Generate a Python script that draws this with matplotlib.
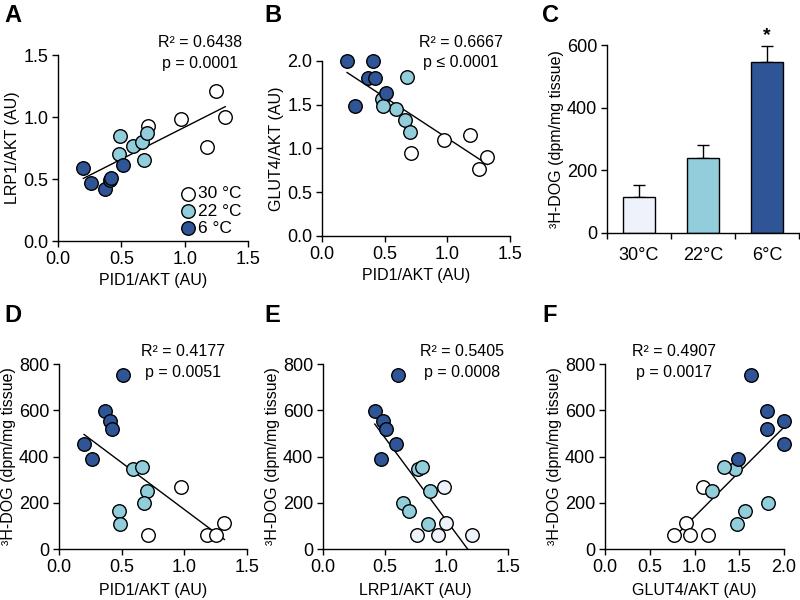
import numpy as np
import matplotlib
matplotlib.use("Agg")
import matplotlib.pyplot as plt
from matplotlib.ticker import FormatStrFormatter

plt.rcParams['font.family'] = ['Liberation Sans', 'DejaVu Sans']
plt.rcParams['font.size'] = 11

# per-mouse values, one array per group (30 °C, 22 °C, 6 °C)
pid1_30 = [0.97, 1.32, 1.18, 1.25, 0.71]
lrp1_30 = [0.98, 1.00, 0.76, 1.21, 0.93]
glut4_30 = [1.10, 0.90, 1.15, 0.77, 0.95]
dog_30 = [268, 112, 62, 62, 62]

pid1_22 = [0.59, 0.66, 0.70, 0.68, 0.48, 0.49]
lrp1_22 = [0.77, 0.80, 0.87, 0.65, 0.70, 0.85]
glut4_22 = [1.45, 1.33, 1.19, 1.82, 1.56, 1.48]
dog_22 = [348, 353, 252, 197, 165, 106]

pid1_6 = [0.51, 0.37, 0.41, 0.42, 0.20, 0.26]
lrp1_6 = [0.61, 0.42, 0.49, 0.51, 0.59, 0.47]
glut4_6 = [1.63, 1.81, 2.00, 1.81, 2.00, 1.49]
dog_6 = [752, 597, 555, 520, 455, 390]

# bar panel C
temps = ['30°C', '22°C', '6°C']
dog_mean = [115, 238, 547]
dog_sem = [37, 42, 51]

stats_a = "R² = 0.6438\np = 0.0001"
stats_b = "R² = 0.6667\np ≤ 0.0001"
stats_d = "R² = 0.4177\np = 0.0051"
stats_e = "R² = 0.5405\np = 0.0008"
stats_f = "R² = 0.4907\np = 0.0017"

WHITE = '#FFFFFF'
LIGHT = '#92CDDC'
DARK = '#2F5597'
PALE = '#EEF3FB'

TICK_FS = 13
LABEL_FS = 11.5
STAT_FS = 11.5


def style_axes(ax):
    for side in ['top', 'right']:
        ax.spines[side].set_visible(False)
    for side in ['left', 'bottom']:
        ax.spines[side].set_linewidth(1.0)
    ax.tick_params(direction='out', length=4, width=1.0, labelsize=TICK_FS,
                   pad=3)


def scatter_panel(ax, xs, ys, white_fill=WHITE):
    fills = [white_fill, LIGHT, DARK]
    allx = np.concatenate([np.asarray(x, float) for x in xs])
    ally = np.concatenate([np.asarray(y, float) for y in ys])
    k, b = np.polyfit(allx, ally, 1)
    xl = np.array([allx.min(), allx.max()])
    ax.plot(xl, k * xl + b, color='black', linewidth=1.0, zorder=2)
    labels = ['30 °C', '22 °C', '6 °C']
    for x, y, c, lab in zip(xs, ys, fills, labels):
        ax.scatter(x, y, s=95, facecolor=c, edgecolor='black',
                   linewidth=1.0, zorder=3, label=lab, clip_on=False)
    style_axes(ax)


def add_stats(ax, x, text):
    ax.text(x, 1.01, text, transform=ax.transAxes, ha='center',
            va='center', fontsize=STAT_FS, linespacing=1.45)


fig = plt.figure(figsize=(8, 6), dpi=100)

# A
axA = fig.add_axes([0.0725, 0.5983, 0.2375, 0.31])
scatter_panel(axA, [pid1_30, pid1_22, pid1_6], [lrp1_30, lrp1_22, lrp1_6])
axA.set_xlim(0, 1.5)
axA.set_ylim(0, 1.5)
axA.set_xticks([0, 0.5, 1.0, 1.5])
axA.set_yticks([0, 0.5, 1.0, 1.5])
axA.xaxis.set_major_formatter(FormatStrFormatter('%.1f'))
axA.yaxis.set_major_formatter(FormatStrFormatter('%.1f'))
axA.set_xlabel('PID1/AKT (AU)', fontsize=LABEL_FS, labelpad=4)
axA.set_ylabel('LRP1/AKT (AU)', fontsize=LABEL_FS, labelpad=2)
add_stats(axA, 0.75, stats_a)
axA.legend(loc='lower right', bbox_to_anchor=(1.0, -0.01), frameon=False,
           handletextpad=0.05, labelspacing=0.12, borderaxespad=0,
           fontsize=12.5, handlelength=1.0)

# B
axB = fig.add_axes([0.4025, 0.6067, 0.235, 0.2917])
scatter_panel(axB, [pid1_30, pid1_22, pid1_6], [glut4_30, glut4_22, glut4_6])
axB.set_xlim(0, 1.5)
axB.set_ylim(0, 2.0)
axB.set_xticks([0, 0.5, 1.0, 1.5])
axB.set_yticks([0, 0.5, 1.0, 1.5, 2.0])
axB.xaxis.set_major_formatter(FormatStrFormatter('%.1f'))
axB.yaxis.set_major_formatter(FormatStrFormatter('%.1f'))
axB.set_xlabel('PID1/AKT (AU)', fontsize=LABEL_FS, labelpad=4)
axB.set_ylabel('GLUT4/AKT (AU)', fontsize=LABEL_FS, labelpad=2)
axB.text(0.74, 1.05, stats_b, transform=axB.transAxes, ha='center',
         va='center', fontsize=STAT_FS, linespacing=1.45)

# C
axC = fig.add_axes([0.75875, 0.6117, 0.24, 0.3133])
pos = np.arange(len(temps))
axC.bar(pos, dog_mean, width=0.5, color=[PALE, LIGHT, DARK],
        edgecolor='black', linewidth=1.0, zorder=2)
axC.errorbar(pos, dog_mean, yerr=[np.zeros(len(dog_sem)), dog_sem],
             fmt='none', ecolor='black', elinewidth=1.0, capsize=4,
             capthick=1.0, zorder=1)
axC.text(pos[2], dog_mean[2] + dog_sem[2] + 6, '*', ha='center',
         va='bottom', fontsize=14, fontweight='bold')
axC.set_xlim(-0.5, 2.5)
axC.set_ylim(0, 600)
axC.set_yticks([0, 200, 400, 600])
axC.set_xticks([-0.5, 0.5, 1.5, 2.5])
axC.set_xticklabels([])
axC.set_xticks(pos, minor=True)
axC.set_xticklabels(temps, minor=True)
style_axes(axC)
axC.tick_params(axis='x', which='minor', length=0, labelsize=TICK_FS, pad=10)
axC.set_ylabel('³H-DOG (dpm/mg tissue)', fontsize=LABEL_FS, labelpad=2)

# D
axD = fig.add_axes([0.07375, 0.085, 0.235, 0.3083])
scatter_panel(axD, [pid1_30, pid1_22, pid1_6], [dog_30, dog_22, dog_6])
axD.set_xlim(0, 1.5)
axD.set_ylim(0, 800)
axD.set_xticks([0, 0.5, 1.0, 1.5])
axD.set_yticks([0, 200, 400, 600, 800])
axD.xaxis.set_major_formatter(FormatStrFormatter('%.1f'))
axD.set_xlabel('PID1/AKT (AU)', fontsize=LABEL_FS, labelpad=5)
axD.set_ylabel('³H-DOG (dpm/mg tissue)', fontsize=LABEL_FS, labelpad=2)
add_stats(axD, 0.66, stats_d)

# E
axE = fig.add_axes([0.40375, 0.085, 0.23125, 0.3083])
scatter_panel(axE, [lrp1_30, lrp1_22, lrp1_6], [dog_30, dog_22, dog_6],
              white_fill=PALE)
axE.set_xlim(0, 1.5)
axE.set_ylim(0, 800)
axE.set_xticks([0, 0.5, 1.0, 1.5])
axE.set_yticks([0, 200, 400, 600, 800])
axE.xaxis.set_major_formatter(FormatStrFormatter('%.1f'))
axE.set_xlabel('LRP1/AKT (AU)', fontsize=LABEL_FS, labelpad=5)
axE.set_ylabel('³H-DOG (dpm/mg tissue)', fontsize=LABEL_FS, labelpad=2)
add_stats(axE, 0.75, stats_e)

# F
axF = fig.add_axes([0.75625, 0.085, 0.22375, 0.3083])
scatter_panel(axF, [glut4_30, glut4_22, glut4_6], [dog_30, dog_22, dog_6])
axF.set_xlim(0, 2.0)
axF.set_ylim(0, 800)
axF.set_xticks([0, 0.5, 1.0, 1.5, 2.0])
axF.set_yticks([0, 200, 400, 600, 800])
axF.xaxis.set_major_formatter(FormatStrFormatter('%.1f'))
axF.set_xlabel('GLUT4/AKT (AU)', fontsize=LABEL_FS, labelpad=5)
axF.set_ylabel('³H-DOG (dpm/mg tissue)', fontsize=LABEL_FS, labelpad=2)
add_stats(axF, 0.385, stats_f)

# panel letters
for letter, (px, py) in zip('ABCDEF', [(4, 4), (264, 4), (542, 4),
                                       (4, 304), (264, 304), (542, 304)]):
    fig.text(px / 800, 1 - py / 600, letter, ha='left', va='top',
             fontsize=17, fontweight='bold')

fig.savefig('out.png', dpi=100)
